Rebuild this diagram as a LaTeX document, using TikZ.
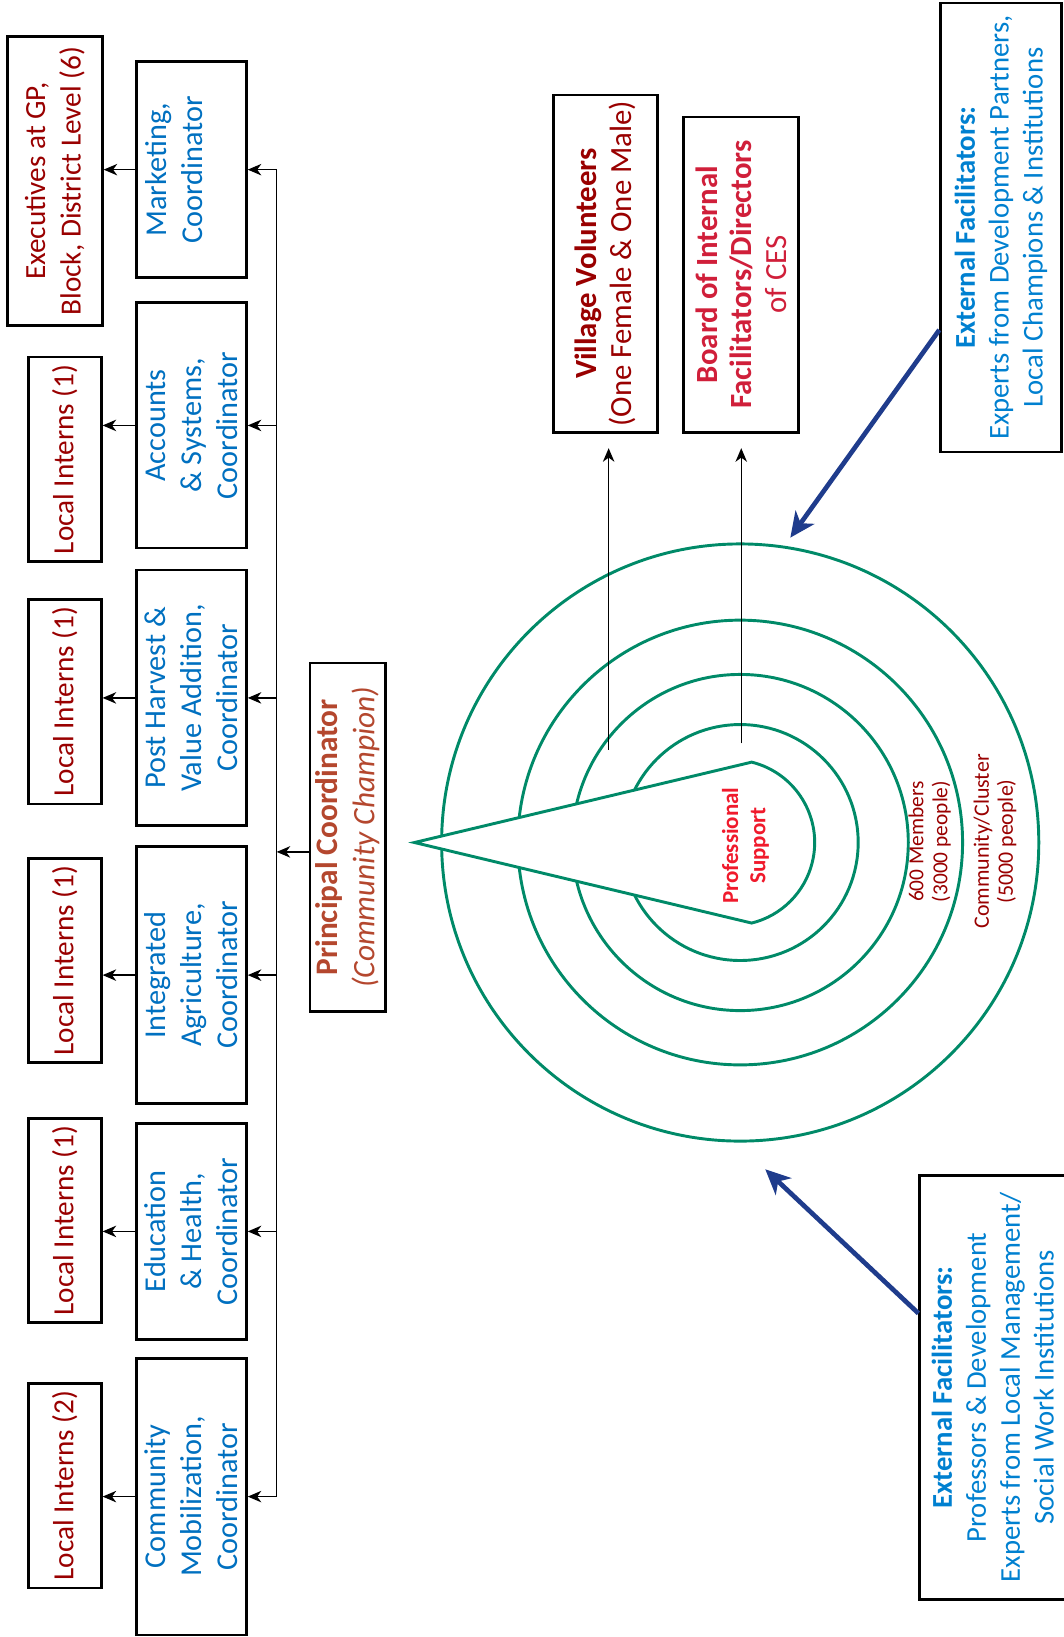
\documentclass[tikz,border=0pt]{standalone}
\usepackage{fontspec}
\setmainfont{Carlito}
\usetikzlibrary{arrows.meta}

\definecolor{darkred}{HTML}{990000}
\definecolor{crimson}{HTML}{D01F3A}
\definecolor{offblue}{HTML}{0070C0}
\definecolor{extblue}{HTML}{0080D0}
\definecolor{pcred}{HTML}{B4472E}
\definecolor{profred}{HTML}{F01A2C}
\definecolor{ringgreen}{HTML}{008A68}
\definecolor{navyblue}{HTML}{1F3C8C}

\newcommand\fs[2]{\fontsize{#1}{#2}\selectfont}

\tikzset{
  rbox/.style={draw=black, line width=2.6pt, rotate=90, inner sep=0pt, align=center},
  intern/.style={rbox, minimum width=196pt, minimum height=70pt, text=darkred, font=\fs{28}{34}},
  coord/.style={rbox, minimum height=105pt, text=offblue, font=\fs{29}{34.5}},
  link/.style={line width=1.3pt, -{Stealth[length=13pt,width=11pt,inset=4pt]}},
  ring/.style={draw=ringgreen, line width=2.8pt},
  extarrow/.style={line width=4.5pt, draw=navyblue, -{Stealth[length=24pt,width=22pt,inset=7pt]}},
  rlabel/.style={rotate=90, align=center, inner sep=0pt},
}

\begin{document}
\begin{tikzpicture}[x=1pt, y=-1pt]
\useasboundingbox (0,0) rectangle (1019,1568);

% ---- interns and executives ----
\node[intern, minimum width=277pt, minimum height=91pt] (exe) at (52.5,173.5) {Executives at GP,\\Block, District Level (6)};
\node[intern] (li1) at (62,440) {Local Interns (1)};
\node[intern] (li2) at (62,672) {Local Interns (1)};
\node[intern] (li3) at (62,920) {Local Interns (1)};
\node[intern] (li4) at (62,1169) {Local Interns (1)};
\node[intern] (li5) at (62,1423) {Local Interns (2)};

% ---- coordinators ----
\node[coord, minimum width=207pt] (mkt) at (183.5,162.5) {Marketing,\\Coordinator\\\mbox{}};
\node[coord, minimum width=235pt] (acc) at (183.5,407.5) {Accounts\\\& Systems,\\Coordinator};
\node[coord, minimum width=245pt] (phv) at (183.5,668.5) {Post Harvest \&\\Value Addition,\\Coordinator};
\node[coord, minimum width=246pt] (iag) at (183.5,934) {Integrated\\Agriculture,\\Coordinator};
\node[coord, minimum width=207pt] (edh) at (183.5,1179.5) {Education\\\& Health,\\Coordinator};
\node[coord, minimum width=265pt] (cmb) at (183.5,1433.5) {Community\\Mobilization,\\Coordinator};

% ---- principal coordinator ----
\node[rbox, minimum width=334pt, minimum height=72pt, text=pcred, font=\fs{30}{35}] (pc) at (333,802)
  {\textbf{Principal Coordinator}\\\textit{(Community Champion)}};

% ---- distribution bus ----
\coordinate (bus) at (265,0);
\draw[line width=1.3pt] (mkt.south -| bus) -- (cmb.south -| bus);
\foreach \c/\i in {mkt/exe, acc/li1, phv/li2, iag/li3, edh/li4, cmb/li5} {
  \draw[link] (\c.north) -- (\c.north -| \i.south);
  \draw[link] (\c.south -| bus) -- (\c.south);
}
\draw[link] ([yshift=-14pt]pc.north) -- ([yshift=-14pt]pc.north -| bus);

% ---- concentric rings ----
\coordinate (ctr) at (709,807);
\foreach \r in {113,161,213,286} {
  \draw[ring] (ctr) circle[radius=\r pt];
}
\path[ring, fill=white] (397,807) -- (720,730)
  arc[start angle=76.1, end angle=-76.1, radius=79.4pt] -- cycle;

\node[rlabel, text=profred, font=\bfseries\fs{22}{26}] (ps) at (714,810) {Professional\\Support};
\node[rlabel, text=darkred, font=\fs{20.5}{23}] (m600) at (890.5,806) {600 Members\\(3000 people)};
\node[rlabel, text=darkred, font=\fs{21}{23}] (clu) at (953,806) {Community/Cluster\\(5000 people)};

% ---- volunteers and board ----
\node[rbox, minimum width=323pt, minimum height=100pt, text=darkred, font=\fs{29.5}{34}] (vv) at (580,252.5)
  {\textbf{Village Volunteers}\\(One Female \& One Male)};
\node[rbox, minimum width=302pt, minimum height=110pt, text=crimson, font=\fs{29.5}{33}] (bd) at (710,263)
  {\textbf{Board of Internal}\\\textbf{Facilitators/Directors}\\of CES};

\coordinate (vvfoot) at (583,718);
\coordinate (bdfoot) at (710,712);
\draw[link, shorten >=14pt] (vvfoot) -- (vvfoot |- vv.west);
\draw[link, shorten >=14pt] (bdfoot) -- (bdfoot |- bd.west);

% ---- external facilitators ----
\node[rbox, minimum width=430pt, minimum height=115.5pt, text=extblue, font=\fs{27.5}{32.5}] (ef1) at (958.75,218)
  {\textbf{External Facilitators:}\\Experts from Development Partners,\\Local Champions \& Institutions};
\node[rbox, minimum width=406pt, minimum height=140pt, text=extblue, font=\fs{27.5}{32.5}] (ef2) at (951,1329)
  {\textbf{External Facilitators:}\\Professors \& Development\\Experts from Local Management/\\Social Work Institutions};

\coordinate (t1) at (757,515);
\coordinate (t2) at (733,1120);
\draw[extarrow] ([yshift=-98pt]ef1.north) -- (t1);
\draw[extarrow] ([yshift=71pt]ef2.north) -- (t2);

\end{tikzpicture}
\end{document}
